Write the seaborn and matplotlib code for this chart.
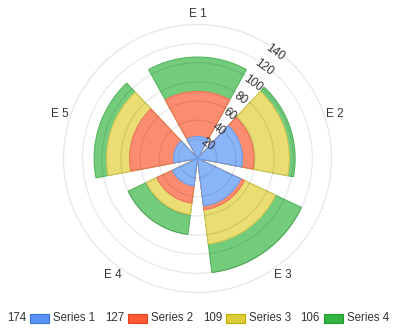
import numpy as np
import pandas as pd
import matplotlib
matplotlib.use("Agg")
import matplotlib.pyplot as plt
from matplotlib.patches import Rectangle
import seaborn as sns

categories = ["E 1", "E 2", "E 3", "E 4", "E 5"]
series_names = ["Series 1", "Series 2", "Series 3", "Series 4"]
series1 = [23, 47, 50, 29, 25]
series2 = [47, 12, 4, 18, 46]
series3 = [0, 37, 36, 12, 24]
series4 = [36, 6, 30, 21, 13]
radial_ticks = [20, 40, 60, 80, 100, 120, 140]

fills = ["#8ab4f8", "#fc8c6f", "#e9dd73", "#73cc7b"]
edges = ["#6f9be6", "#ec7356", "#d8c64c", "#55b65e"]
swatch = ["#5a93f6", "#ff5a33", "#dccc3a", "#33b443"]
swatch_edge = ["#3b73de", "#e2421d", "#c2b000", "#1f9a2d"]

sns.set_theme(style="white")
plt.rcParams["font.family"] = ["Liberation Sans", "DejaVu Sans"]

W, H = 395, 332
fig = plt.figure(figsize=(W / 100, H / 100), dpi=100)
cx, cy, R = 197.5, 158.5, 134
ax = fig.add_axes([(cx - R) / W, (H - cy - R) / H, 2 * R / W, 2 * R / H],
                  projection="polar")
ax.set_theta_zero_location("N")
ax.set_theta_direction(-1)

n = len(categories)
theta = np.arange(n) * 2 * np.pi / n
series = [series1, series2, series3, series4]
cum = np.cumsum(np.array(series), axis=0)

# draw outermost first so inner stacks overlay (stacked look)
for i in range(len(series) - 1, -1, -1):
    df = pd.DataFrame({"theta": theta, "value": cum[i]})
    sns.barplot(data=df, x="theta", y="value", native_scale=True, width=0.8,
                color=fills[i], saturation=1, errorbar=None,
                edgecolor=edges[i], linewidth=0.8, ax=ax, zorder=2)

ax.set_ylim(0, 140)
ax.set_xlabel("")
ax.set_ylabel("")
ax.set_xticks(theta)
ax.set_xticklabels([])
ax.xaxis.grid(False)
ax.set_yticks(radial_ticks[:-1])
ax.set_yticklabels([])
ax.yaxis.grid(True, color="black", alpha=0.09, linewidth=0.9, zorder=3)
ax.set_axisbelow(False)
ax.spines["polar"].set_color("#e6e6e6")
ax.spines["polar"].set_linewidth(0.9)
ax.tick_params(axis="x", length=4, color="#cccccc", direction="out", width=0.8)
ax.tick_params(axis="y", length=0)

for t, lab in zip(theta, categories):
    ax.text(t, 151, lab, ha="center", va="center", fontsize=8.5,
            color="#333333", clip_on=False)

ang = np.deg2rad(36)
for v in radial_ticks:
    ax.text(ang, v - 2.5, str(v), ha="center", va="center", fontsize=8.6,
            color="#333333", rotation=-36, rotation_mode="anchor",
            clip_on=False, zorder=5)

# legend: value total, swatch, name
ly = 318
for i, name in enumerate(series_names):
    x0 = 26 + i * 98
    fig.text(x0 / W, (H - ly) / H, str(int(np.sum(series[i]))), ha="right",
             va="center", fontsize=8.3, color="#333333")
    fig.add_artist(Rectangle(((x0 + 4) / W, (H - 323) / H), 19 / W, 9 / H,
                             transform=fig.transFigure, facecolor=swatch[i],
                             edgecolor=swatch_edge[i], linewidth=0.8))
    fig.text((x0 + 27) / W, (H - ly) / H, name, ha="left", va="center",
             fontsize=8.3, color="#333333")

fig.savefig("out.png", dpi=100)
